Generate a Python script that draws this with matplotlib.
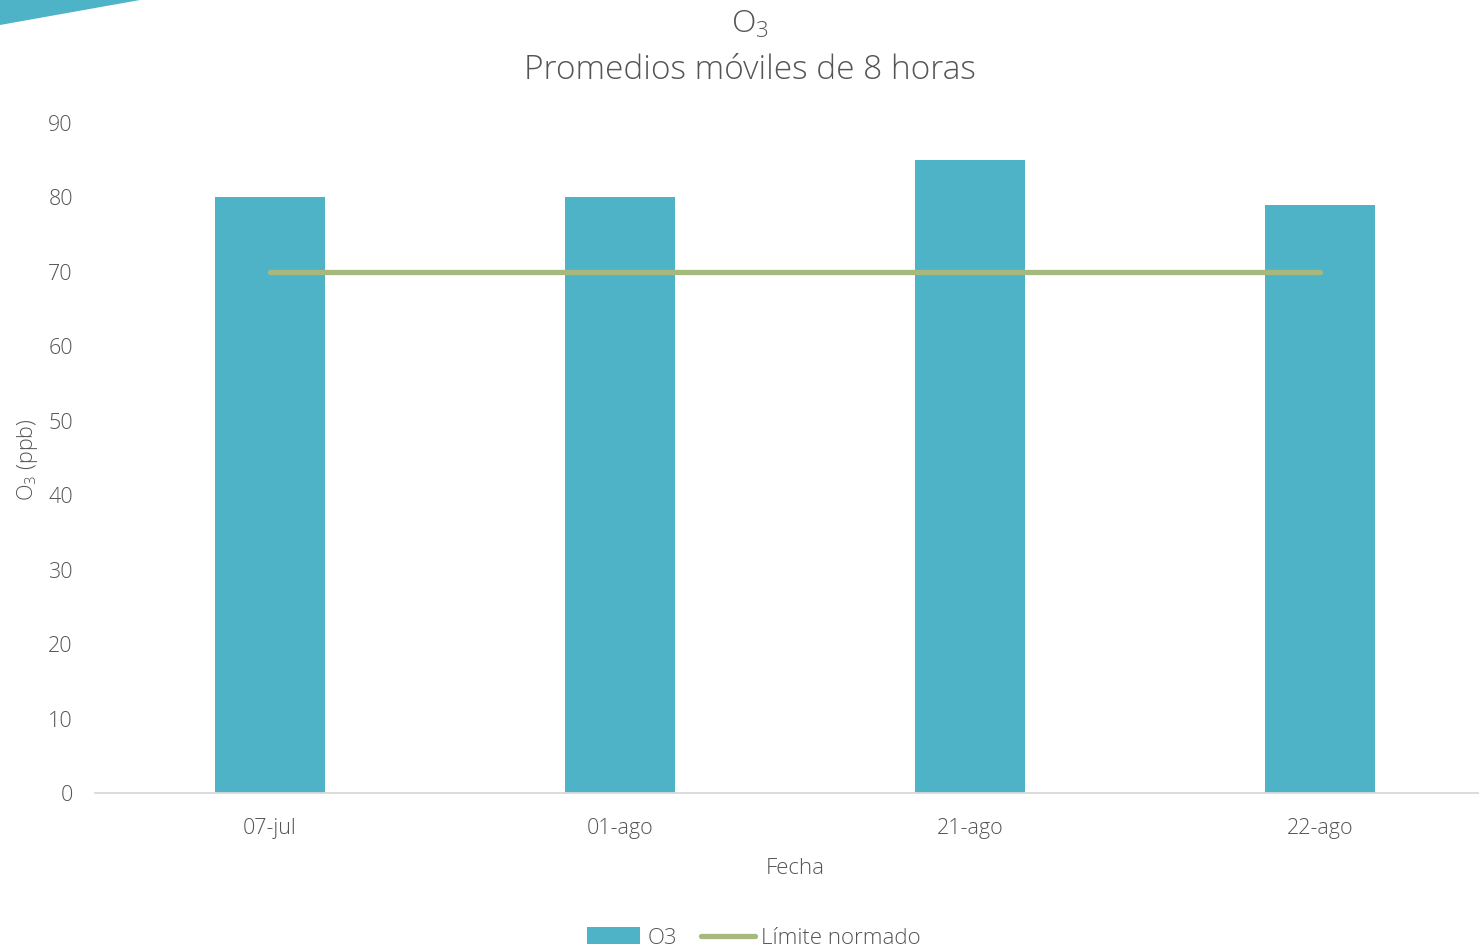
import matplotlib
matplotlib.use('Agg')
import matplotlib.pyplot as plt
from matplotlib.patches import Polygon

fechas = ['07-jul', '01-ago', '21-ago', '22-ago']
o3_valores = [80, 80, 85, 79]
limite_normado = [70, 70, 70, 70]
y_ticks = [0, 10, 20, 30, 40, 50, 60, 70, 80, 90]

gris = '#555555'
azul = '#4FB3C8'
verde = '#A5B97E'

plt.rcParams['font.family'] = ['Open Sans', 'DejaVu Sans']
plt.rcParams['font.weight'] = 'light'
plt.rcParams['axes.labelweight'] = 'light'
plt.rcParams['mathtext.fontset'] = 'custom'
plt.rcParams['mathtext.rm'] = 'Open Sans:light'
plt.rcParams['mathtext.it'] = 'Open Sans:light'

fig = plt.figure(figsize=(14.79, 9.46), dpi=100)
ax = fig.add_axes([95 / 1479, 1 - 793 / 946, 1400 / 1479, 670 / 946])

x = list(range(len(fechas)))
barras = ax.bar(x, o3_valores, width=0.314, color=azul, label='O3', zorder=2)
linea, = ax.plot(x, limite_normado, color=verde, linewidth=3.8, solid_capstyle='round',
                 label='Límite normado', zorder=3)

ax.set_xlim(-0.5, len(fechas) - 0.5)
ax.set_ylim(0, 90)
ax.set_yticks(y_ticks)
ax.set_xticks(x)
ax.set_xticklabels(fechas)
ax.tick_params(axis='both', length=0, labelsize=15.5, colors=gris)
ax.tick_params(axis='x', pad=18)
ax.tick_params(axis='y', pad=16)

for s in ['top', 'right', 'left']:
    ax.spines[s].set_visible(False)
ax.spines['bottom'].set_color('#D9D9D9')
ax.spines['bottom'].set_linewidth(1.3)

ax.set_xlabel('Fecha', fontsize=16, color=gris, labelpad=14)
fig.text(27 / 1479, 1 - 460 / 946, 'O$_3$ (ppb)', rotation=90, fontsize=15.5,
         color=gris, ha='center', va='center')

fig.text(750 / 1479, 1 - 25 / 946, 'O$_3$', fontsize=23, color=gris,
         ha='center', va='center')
fig.text(750 / 1479, 1 - 70 / 946, 'Promedios móviles de 8 horas', fontsize=24,
         color=gris, ha='center', va='center')

# decorative corner triangle
tri = Polygon([(0, 1), (140 / 1479, 1), (0, 1 - 25 / 946)], closed=True,
              transform=fig.transFigure, facecolor=azul, edgecolor='none')
fig.patches.append(tri)

fig.legend([barras, linea], ['O3', 'Límite normado'], loc='center',
           bbox_to_anchor=(754 / 1479, 1 - 938 / 946),
           ncol=2, frameon=False, fontsize=16, labelcolor=gris,
           handlelength=2.4, handleheight=0.8, handletextpad=0.3,
           columnspacing=1.1)

plt.savefig('out.png', dpi=100)
